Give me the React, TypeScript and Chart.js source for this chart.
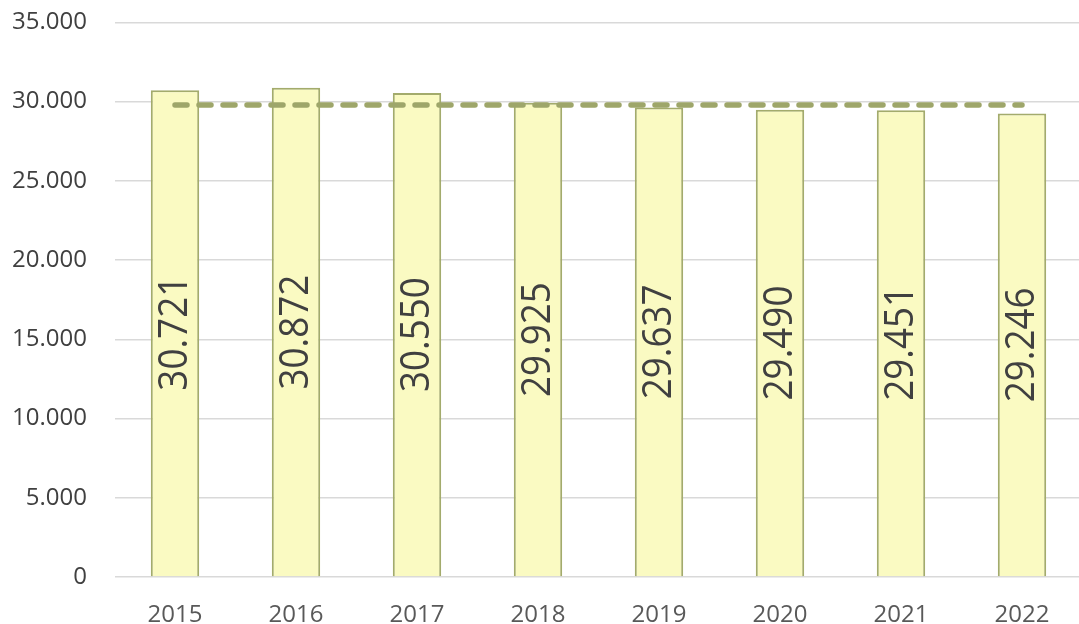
import React, { useEffect, useRef } from "react";
import { Chart, registerables } from "chart.js";

Chart.register(...registerables);

const years = ["2015", "2016", "2017", "2018", "2019", "2020", "2021", "2022"];
const values = [30721, 30872, 30550, 29925, 29637, 29490, 29451, 29246];
const refLine = [29780, 29780, 29780, 29780, 29780, 29780, 29780, 29780];
const yMin = 0;
const yMax = 35000;
const yStep = 5000;

const fmt = (n: number) =>
  Math.round(n)
    .toString()
    .replace(/\B(?=(\d{3})+(?!\d))/g, ".");

const barLabelPlugin = {
  id: "barLabels",
  afterDatasetsDraw(chart: any) {
    const meta = chart.getDatasetMeta(0);
    const ctx = chart.ctx;
    ctx.save();
    meta.data.forEach((el: any, i: number) => {
      const v = chart.data.datasets[0].data[i] as number;
      const cx = el.x;
      const cy = (el.y + el.base) / 2;
      ctx.save();
      ctx.translate(cx, cy);
      ctx.rotate(-Math.PI / 2);
      ctx.scale(0.92, 1);
      ctx.font = "40px 'Open Sans'";
      ctx.fillStyle = "#404040";
      ctx.textAlign = "center";
      ctx.textBaseline = "middle";
      ctx.fillText(fmt(v), 0, 1);
      ctx.restore();
    });
    ctx.restore();
  },
};

export default function App() {
  const ref = useRef<HTMLCanvasElement>(null);

  useEffect(() => {
    if (!ref.current) return;
    const chart = new Chart(ref.current, {
      type: "bar",
      data: {
        labels: years,
        datasets: [
          {
            type: "bar",
            data: values,
            backgroundColor: "#FAFAC2",
            borderColor: "#A3AB6C",
            borderWidth: 2,
            barPercentage: 0.4,
            categoryPercentage: 1,
            order: 2,
          },
          {
            type: "line",
            data: refLine,
            borderColor: "#9EA66A",
            borderWidth: 5.5,
            borderDash: [12, 12],
            borderCapStyle: "round",
            pointRadius: 0,
            fill: false,
            order: 1,
          } as any,
        ],
      },
      options: {
        animation: false,
        responsive: true,
        maintainAspectRatio: false,
        layout: { padding: { top: 0, left: 12.5, right: 1.5, bottom: 0 } },
        plugins: {
          legend: { display: false },
          tooltip: { enabled: false },
        },
        scales: {
          x: {
            grid: { display: false, drawTicks: false },
            border: { display: false },
            ticks: {
              color: "#595959",
              font: { family: "'Open Sans'", size: 24 },
              padding: 24,
            },
            afterFit: (s: any) => {
              s.height = 47;
              s.paddingLeft = 0;
              s.paddingRight = 0;
            },
          },
          y: {
            min: yMin,
            max: yMax,
            grid: { color: "#D9D9D9", lineWidth: 1.5, drawTicks: false },
            border: { display: false },
            ticks: {
              stepSize: yStep,
              color: "#404040",
              font: { family: "'Open Sans'", size: 24 },
              padding: 27.5,
              callback: (v: any) => fmt(Number(v)),
            },
            afterFit: (s: any) => {
              s.width = 102;
              s.paddingTop = 22.4;
              s.paddingBottom = 0;
            },
          },
        },
      },
      plugins: [barLabelPlugin],
    });
    return () => chart.destroy();
  }, []);

  return (
    <div
      style={{
        position: "absolute",
        left: 0,
        top: 0,
        width: 1079,
        height: 624,
        overflow: "hidden",
        background: "#fff",
      }}
    >
      <div style={{ position: "relative", width: 1084, height: 624 }}>
        <canvas ref={ref} />
      </div>
    </div>
  );
}
